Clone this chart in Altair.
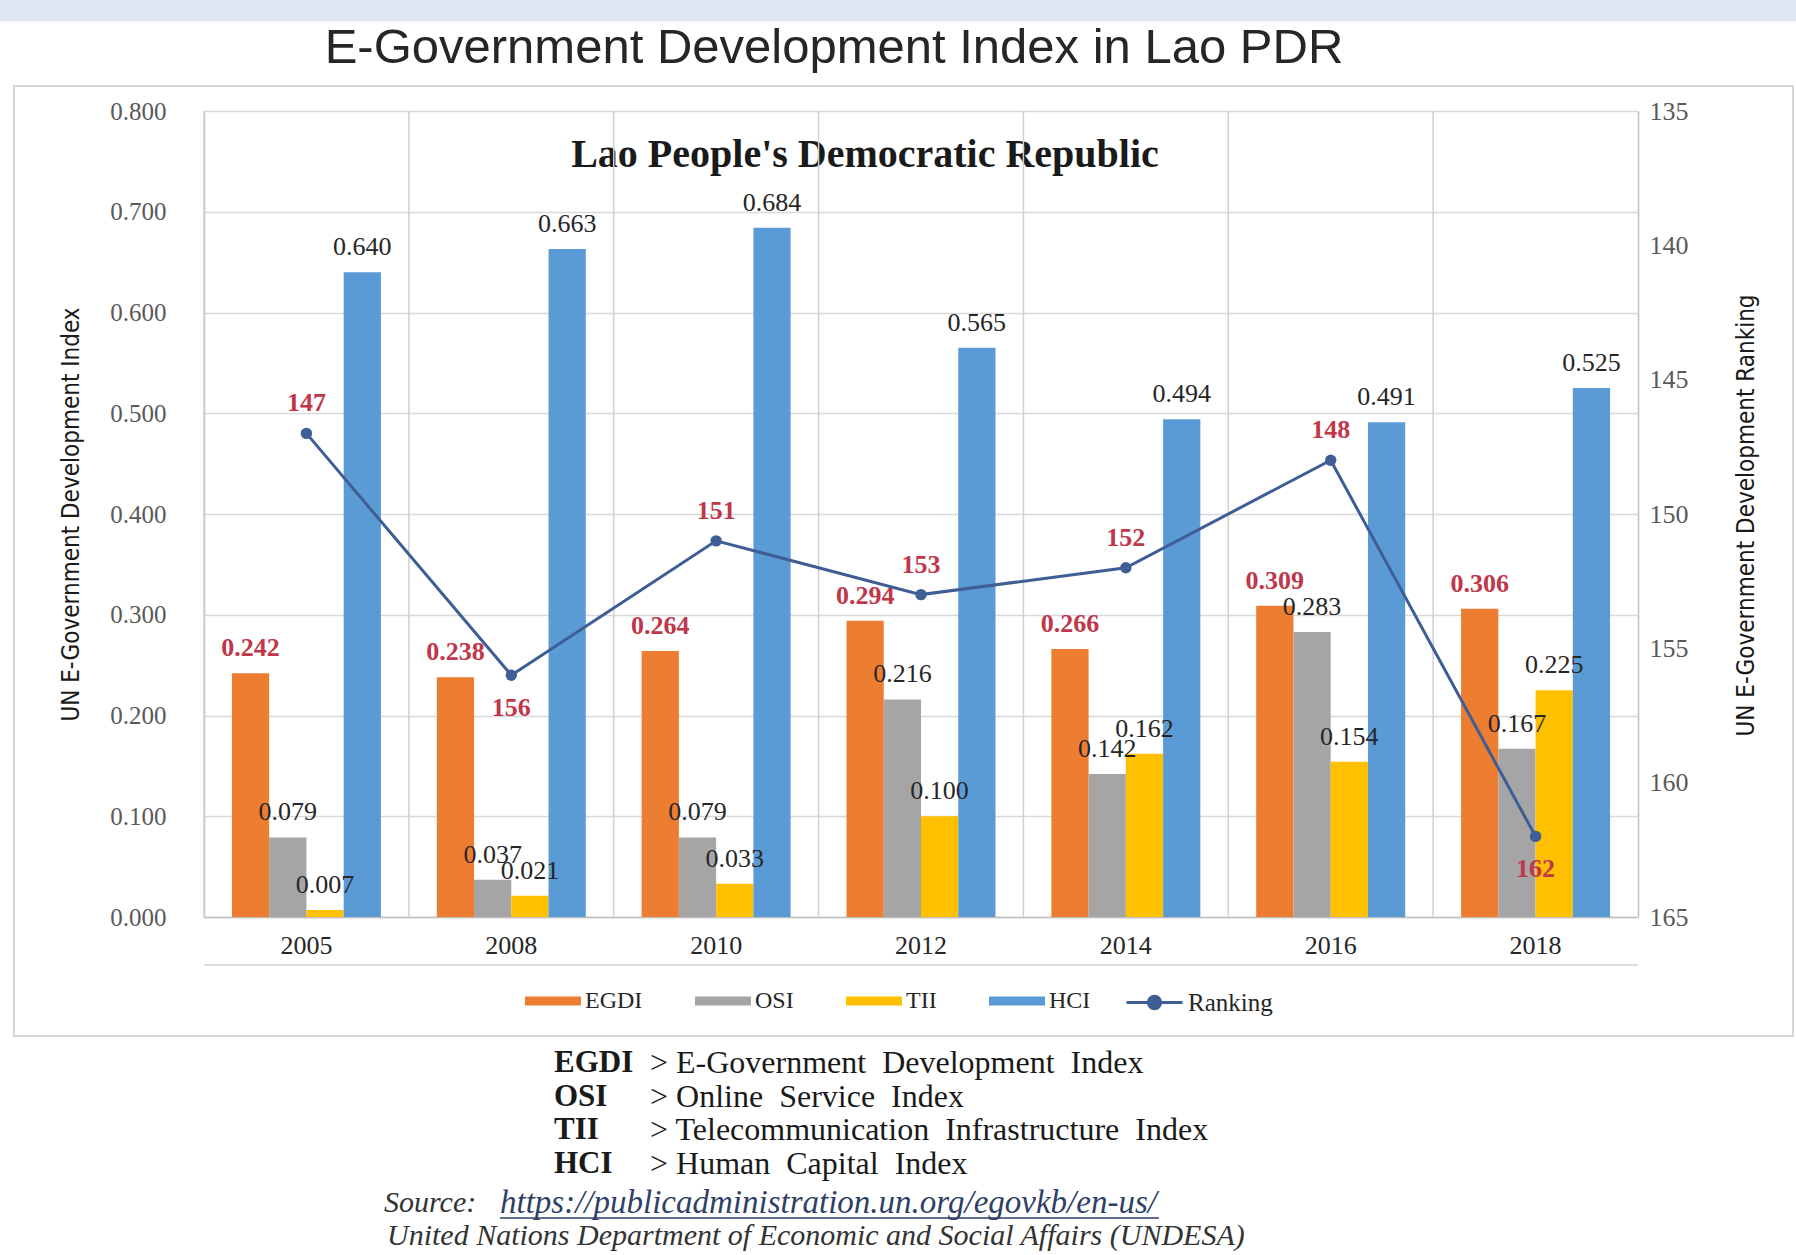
import altair as alt
import pandas as pd

# ---------------- data ----------------
years = ["2005", "2008", "2010", "2012", "2014", "2016", "2018"]
egdi = [0.242, 0.238, 0.264, 0.294, 0.266, 0.309, 0.306]
osi = [0.079, 0.037, 0.079, 0.216, 0.142, 0.283, 0.167]
tii = [0.007, 0.021, 0.033, 0.100, 0.162, 0.154, 0.225]
hci = [0.640, 0.663, 0.684, 0.565, 0.494, 0.491, 0.525]
ranking = [147, 156, 151, 153, 152, 148, 162]

series_names = ["EGDI", "OSI", "TII", "HCI"]
series_colors = ["#ED7D31", "#A5A5A5", "#FFC000", "#5B9BD5"]
line_color = "#3F5E95"
red = "#C0364A"
left_ticks = [0.0, 0.1, 0.2, 0.3, 0.4, 0.5, 0.6, 0.7, 0.8]
right_ticks = [135, 140, 145, 150, 155, 160, 165]

rows = []
for name, vals in zip(series_names, [egdi, osi, tii, hci]):
    for y, v in zip(years, vals):
        rows.append({"Year": y, "Series": name, "Value": v})
df = pd.DataFrame(rows)
rank_df = pd.DataFrame({"Year": years, "Ranking": ranking, "Name": ["Ranking"] * len(years)})
year_df = pd.DataFrame({"Year": years})

W, H = 1434, 806
SERIF = "Liberation Serif"
NARROW = "Liberation Sans Narrow, DejaVu Sans Condensed, sans-serif"

x_axis = alt.Axis(title=None, labelAngle=0, labelAlign="center", labelBaseline="top",
                  ticks=False, grid=False,
                  domain=True, domainColor="#bfbfbf", domainWidth=1.5,
                  labelFont=SERIF, labelFontSize=26, labelColor="#262626",
                  labelPadding=15)
x_enc = alt.X("Year:N", sort=years,
              scale=alt.Scale(paddingInner=0, paddingOuter=0), axis=x_axis)
xo_enc = alt.XOffset("Series:N", sort=series_names,
                     scale=alt.Scale(domain=series_names, paddingInner=0, paddingOuter=0.75))
y_left = alt.Y("Value:Q",
               scale=alt.Scale(domain=[0, 0.8], nice=False),
               axis=alt.Axis(values=left_ticks, format=".3f", ticks=False,
                             grid=True, gridColor="#d9d9d9", gridWidth=1.5,
                             domain=True, domainColor="#bfbfbf", domainWidth=1.5,
                             labelFont=SERIF, labelFontSize=25, labelColor="#595959",
                             labelPadding=38,
                             title="UN E-Government Development Index",
                             titleFont=NARROW,
                             titleFontSize=24, titleFontWeight="normal", titleColor="#1a1a1a",
                             titleAngle=270, titleX=-133, titleY=403,
                             titleAlign="center", titleBaseline="middle"))

bars = alt.Chart(df).mark_bar().encode(
    x=x_enc, xOffset=xo_enc, y=y_left,
    fill=alt.Fill("Series:N", sort=series_names, title=None,
                  scale=alt.Scale(domain=series_names, range=series_colors),
                  legend=alt.Legend(orient="none", legendX=321, legendY=862,
                                    direction="horizontal", padding=0,
                                    symbolType="M-1,-0.16L1,-0.16L1,0.16L-1,0.16Z",
                                    symbolSize=3136, symbolStrokeWidth=0,
                                    labelFont=SERIF, labelFontSize=24, labelColor="#262626",
                                    labelOffset=4, columnPadding=52)))

vgrid = alt.Chart(year_df).mark_rule(color="#d0d0d0", strokeWidth=1.5).encode(
    x=alt.X("Year:N", sort=years, bandPosition=0, axis=x_axis),
    y=alt.value(0), y2=alt.value(H))

egdi_text = alt.Chart(df).transform_filter("datum.Series == 'EGDI'").mark_text(
    font=SERIF, fontSize=26, fontWeight="bold", color=red, dy=-25, baseline="middle").encode(
    x=alt.X("Year:N", sort=years, axis=x_axis), xOffset=alt.XOffset("Series:N", sort=series_names),
    y="Value:Q", text=alt.Text("Value:Q", format=".3f"))

other_text = alt.Chart(df).transform_filter("datum.Series != 'EGDI'").mark_text(
    font=SERIF, fontSize=26, color="#262626", dy=-25, baseline="middle").encode(
    x=alt.X("Year:N", sort=years, axis=x_axis), xOffset=alt.XOffset("Series:N", sort=series_names),
    y="Value:Q", text=alt.Text("Value:Q", format=".3f"))

left_layer = alt.layer(bars, vgrid, egdi_text, other_text)

y_right = alt.Y("Ranking:Q",
                scale=alt.Scale(domain=[135, 165], reverse=True, nice=False, zero=False),
                axis=alt.Axis(orient="right", values=right_ticks, format="d", ticks=False,
                              grid=False, domain=True, domainColor="#bfbfbf", domainWidth=1.5,
                              labelFont=SERIF, labelFontSize=26, labelColor="#595959",
                              labelPadding=11,
                              title="UN E-Government Development Ranking",
                              titleFont=NARROW,
                              titleFontSize=24, titleFontWeight="normal", titleColor="#1a1a1a",
                              titleAngle=270, titleX=108, titleY=404,
                              titleAlign="center", titleBaseline="middle"))

rank_line = alt.Chart(rank_df).mark_line(strokeWidth=3).encode(
    x=alt.X("Year:N", sort=years, axis=x_axis), y=y_right,
    stroke=alt.Stroke("Name:N", title=None,
                      scale=alt.Scale(domain=["Ranking"], range=[line_color]),
                      legend=alt.Legend(orient="none", legendX=921, legendY=862, padding=0,
                                        symbolType="M-1,0L1,0M-0.22,0A0.22,0.22,0,1,1,0.22,0A0.22,0.22,0,1,1,-0.22,0Z",
                                        symbolSize=3136, symbolStrokeWidth=3,
                                        symbolFillColor=line_color,
                                        labelFont=SERIF, labelFontSize=25, labelColor="#262626",
                                        labelOffset=4)))
rank_pts = alt.Chart(rank_df).mark_circle(size=130, color=line_color, opacity=1).encode(
    x=alt.X("Year:N", sort=years, axis=x_axis), y="Ranking:Q")
rank_up = alt.Chart(rank_df).transform_filter("datum.Ranking < 155").mark_text(
    font=SERIF, fontSize=26, fontWeight="bold", color=red, dy=-30, baseline="middle").encode(
    x=alt.X("Year:N", sort=years, axis=x_axis), y="Ranking:Q", text="Ranking:Q")
rank_down = alt.Chart(rank_df).transform_filter("datum.Ranking >= 155").mark_text(
    font=SERIF, fontSize=26, fontWeight="bold", color=red, dy=33, baseline="middle").encode(
    x=alt.X("Year:N", sort=years, axis=x_axis), y="Ranking:Q", text="Ranking:Q")

right_layer = alt.layer(rank_line, rank_pts, rank_up, rank_down)


# ---------------- annotations ----------------
def txt(s, x, y, **kw):
    return alt.Chart(pd.DataFrame({"t": [s]})).mark_text(**kw).encode(
        text="t:N", x=alt.value(x), y=alt.value(y))


def box(x, x2, y, y2, **kw):
    return alt.Chart(pd.DataFrame({"a": [0]})).mark_rect(**kw).encode(
        x=alt.value(x), x2=alt.value(x2), y=alt.value(y), y2=alt.value(y2))


def hline(x, x2, y, **kw):
    return alt.Chart(pd.DataFrame({"a": [0]})).mark_rule(**kw).encode(
        x=alt.value(x), x2=alt.value(x2), y=alt.value(y))


band = box(-204, 1592, -111, -90, fill="#dfe8f2", stroke="#dfe8f2")
frame = box(-190, 1589, -25, 925, fill="white", fillOpacity=0, stroke="#d6d6d6", strokeWidth=2)
under_axis = hline(0, W, 854, color="#d0d0d0", strokeWidth=1.5)

title = txt("E-Government Development Index in Lao PDR", 630, -63,
            font="Liberation Sans", fontSize=49, color="#262626", align="center", baseline="middle")
subtitle = txt("Lao People's Democratic Republic", 661, 44,
               font=SERIF, fontSize=40, fontWeight="bold", color="#1a1a1a", align="center", baseline="middle")

NB = "\u00a0"
abbr = ["EGDI", "OSI", "TII", "HCI"]
desc = ["> E-Government" + NB + " Development" + NB + " Index",
        "> Online" + NB + " Service" + NB + " Index",
        "> Telecommunication" + NB + " Infrastructure" + NB + " Index",
        "> Human" + NB + " Capital" + NB + " Index"]
row_y = [952, 986, 1019, 1053]
defs = []
for a, d, yy in zip(abbr, desc, row_y):
    defs.append(txt(a, 350, yy, font=SERIF, fontSize=31, fontWeight="bold", color="#1a1a1a",
                    align="left", baseline="middle"))
    defs.append(txt(d, 446, yy, font=SERIF, fontSize=32, color="#1a1a1a",
                    align="left", baseline="middle"))

src1 = txt("Source:", 180, 1092, font=SERIF, fontSize=30, fontStyle="italic", color="#333333",
           align="left", baseline="middle")
src2 = txt("https://publicadministration.un.org/egovkb/en-us/", 296, 1092, font=SERIF, fontSize=33,
           fontStyle="italic", color="#2f3f66", align="left", baseline="middle")
src_ul = hline(296, 955, 1107, color="#2f3f66", strokeWidth=1.5)
src3 = txt("United Nations Department of Economic and Social Affairs (UNDESA)", 183, 1125,
           font=SERIF, fontSize=30, fontStyle="italic", color="#333333", align="left", baseline="middle")

chart = alt.layer(
    band, frame, under_axis, title, subtitle, *defs, src1, src2, src_ul, src3,
    left_layer, right_layer
).resolve_scale(y="independent").properties(
    width=W, height=H,
    autosize=alt.AutoSizeParams(type="none"),
    padding={"left": 204, "top": 111, "right": 158, "bottom": 338},
    background="white",
).configure_view(stroke="transparent")

chart.save("out.html", embed_options={"renderer": "svg", "actions": False})
